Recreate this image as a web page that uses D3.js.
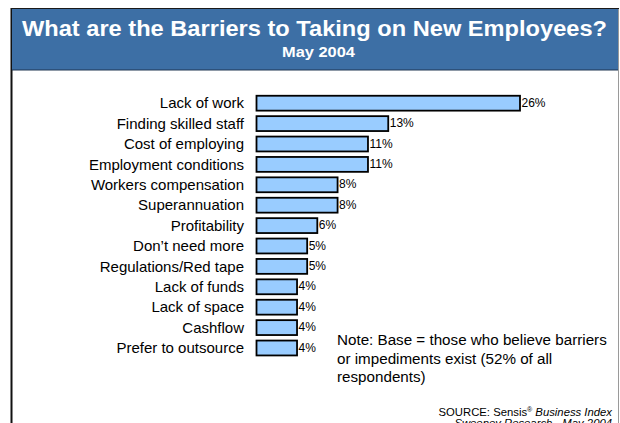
<!DOCTYPE html>
<html>
<head>
<meta charset="utf-8">
<script src="https://cdn.jsdelivr.net/npm/d3@7"></script>
<style>
  html, body { margin: 0; padding: 0; background: #fff; }
  svg { display: block; font-family: "Liberation Sans", Arial, sans-serif; }
</style>
</head>
<body>
<svg id="chart" width="620" height="423"></svg>
<script>
// Survey responses: barriers to taking on new employees (May 2004)
const categories = [
  "Lack of work",
  "Finding skilled staff",
  "Cost of employing",
  "Employment conditions",
  "Workers compensation",
  "Superannuation",
  "Profitability",
  "Don\u2019t need more",
  "Regulations/Red tape",
  "Lack of funds",
  "Lack of space",
  "Cashflow",
  "Prefer to outsource"
];
const values = [26, 13, 11, 11, 8, 8, 6, 5, 5, 4, 4, 4, 4];
const valueLabels = ["26%", "13%", "11%", "11%", "8%", "8%", "6%", "5%", "5%", "4%", "4%", "4%", "4%"];
const titleText = "What are the Barriers to Taking on New Employees?";
const subtitleText = "May 2004";
const noteLines = [
  "Note: Base = those who believe barriers",
  "or impediments exist (52% of all",
  "respondents)"
];

const data = categories.map((c, i) => ({ category: c, value: values[i], label: valueLabels[i] }));

const svg = d3.select("#chart");

// Panel frame
svg.append("line").attr("x1", 11.5).attr("x2", 11.5).attr("y1", 8).attr("y2", 423)
  .attr("stroke", "#111").attr("stroke-width", 2);
svg.append("line").attr("x1", 618.5).attr("x2", 618.5).attr("y1", 8).attr("y2", 423)
  .attr("stroke", "#9a9a9a").attr("stroke-width", 1);

// Header band
svg.append("rect")
  .attr("x", 12).attr("y", 8.5).attr("width", 606).attr("height", 61.5)
  .attr("fill", "#3d6fa5");
svg.append("line").attr("x1", 11).attr("x2", 619).attr("y1", 8.5).attr("y2", 8.5)
  .attr("stroke", "#1a1a1a").attr("stroke-width", 1);
svg.append("line").attr("x1", 12).attr("x2", 618).attr("y1", 70).attr("y2", 70)
  .attr("stroke", "#1f3550").attr("stroke-width", 1);

svg.append("text")
  .attr("x", 314.5).attr("y", 36)
  .attr("text-anchor", "middle")
  .attr("fill", "#fff")
  .attr("font-weight", "bold")
  .attr("font-size", 22)
  .attr("textLength", 585)
  .attr("lengthAdjust", "spacingAndGlyphs")
  .text(titleText);
svg.append("text")
  .attr("x", 318.5).attr("y", 57)
  .attr("text-anchor", "middle")
  .attr("fill", "#fff")
  .attr("font-weight", "bold")
  .attr("font-size", 14)
  .attr("textLength", 73)
  .attr("lengthAdjust", "spacingAndGlyphs")
  .text(subtitleText);

// Scales
const x = d3.scaleLinear().domain([0, 26]).range([256.5, 520]);
const y = d3.scaleBand()
  .domain(categories)
  .range([93, 358.2])
  .paddingInner(0.27)
  .paddingOuter(0.135);

// Category axis (labels only)
const yAxis = d3.axisLeft(y).tickSize(0).tickPadding(0);
const gy = svg.append("g")
  .attr("transform", "translate(244,0)")
  .attr("font-size", 15)
  .attr("font-family", "'Liberation Sans', Arial, sans-serif")
  .call(yAxis);
gy.select(".domain").remove();
gy.selectAll("text")
  .attr("font-size", 15)
  .attr("fill", "#000")
  .attr("dy", "0.35em");

// Bars
svg.append("g").selectAll("rect")
  .data(data)
  .join("rect")
  .attr("x", x(0))
  .attr("y", d => y(d.category))
  .attr("width", d => x(d.value) - x(0))
  .attr("height", y.bandwidth())
  .attr("fill", "#99ccff")
  .attr("stroke", "#000")
  .attr("stroke-width", 1.8);

// Value labels
svg.append("g").selectAll("text")
  .data(data)
  .join("text")
  .attr("x", d => x(d.value) + 1.5)
  .attr("y", d => y(d.category) + y.bandwidth() / 2)
  .attr("dy", "0.3em")
  .attr("font-size", 12)
  .attr("fill", "#000")
  .text(d => d.label);

// Note
svg.append("g").selectAll("text")
  .data(noteLines)
  .join("text")
  .attr("x", 337)
  .attr("y", (d, i) => 345 + i * 18.5)
  .attr("font-size", 15.2)
  .attr("fill", "#000")
  .text(d => d);

// Source
const src = svg.append("text")
  .attr("x", 612).attr("y", 416)
  .attr("text-anchor", "end")
  .attr("font-size", 11.3)
  .attr("fill", "#000");
src.append("tspan").text("SOURCE: Sensis");
src.append("tspan").attr("font-size", 7).attr("dy", -4).text("\u00AE");
src.append("tspan").attr("dy", 4).attr("font-style", "italic").text(" Business Index");

svg.append("text")
  .attr("x", 612).attr("y", 427)
  .attr("text-anchor", "end")
  .attr("font-size", 11.3)
  .attr("font-style", "italic")
  .attr("fill", "#000")
  .text("Sweeney Research - May 2004");
</script>
</body>
</html>
